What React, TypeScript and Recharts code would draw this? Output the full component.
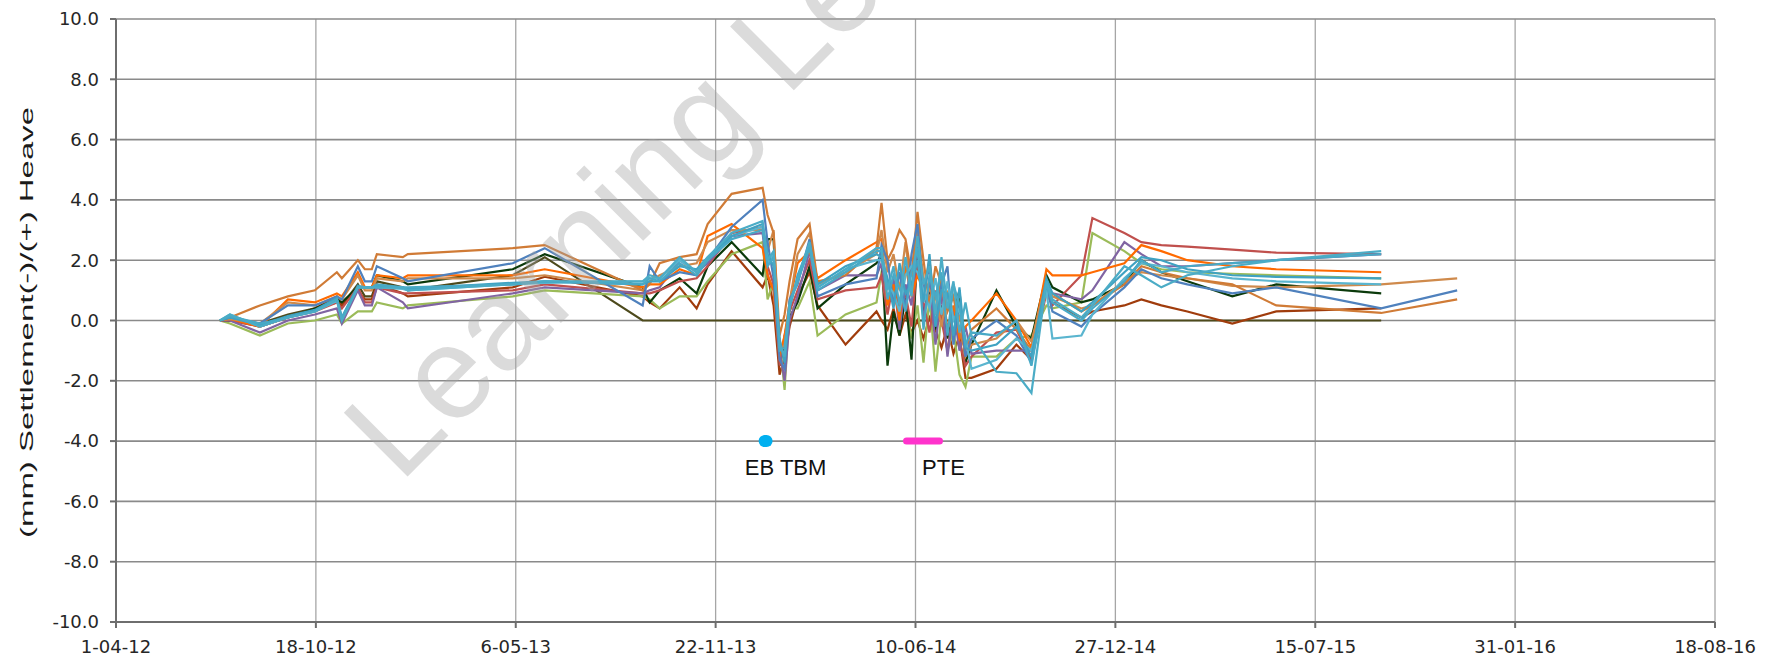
import { LineChart, Line, XAxis, YAxis, CartesianGrid, ReferenceDot } from "recharts";

// survey dates (shared by every monitoring point)
const dates = [
  "2012-07-14", "2012-07-24", "2012-08-23", "2012-09-20", "2012-10-17", "2012-11-08", "2012-11-13", "2012-11-29",
  "2012-12-06", "2012-12-13", "2012-12-18", "2013-01-13", "2013-01-18", "2013-05-03", "2013-06-04",
  "2013-09-10", "2013-09-17", "2013-09-27", "2013-10-17", "2013-11-03", "2013-11-14", "2013-12-08", "2014-01-08",
  "2014-01-13", "2014-01-19", "2014-01-25", "2014-01-30", "2014-02-04", "2014-02-12", "2014-02-24", "2014-03-04",
  "2014-04-01",
  "2014-05-02",
  "2014-05-07", "2014-05-13", "2014-05-19", "2014-05-25", "2014-05-31", "2014-06-06", "2014-06-12", "2014-06-18",
  "2014-06-24", "2014-06-30", "2014-07-06", "2014-07-12", "2014-07-18", "2014-07-24", "2014-07-30", "2014-08-05",
  "2014-08-30", "2014-09-19", "2014-10-04", "2014-10-19", "2014-10-25",
  "2014-11-23", "2014-12-04", "2015-01-05", "2015-01-22", "2015-02-11", "2015-03-09", "2015-04-23", "2015-06-06",
  "2015-09-19", "2015-12-04",
];

const brownA = [
  0, 0.1, 0.5, 0.8, 1.0, 1.6, 1.4, 2.0, 1.7, 1.7, 2.2, 2.1, 2.2, 2.4, 2.5,
  1.0, 1.2, 1.9, 2.1, 2.2, 3.2, 4.2, 4.4, 3.5, 2.9, -0.5, 0.2, 1.3, 2.7, 3.2, 1.3, 1.5,
  2.4,
  3.9, 2.0, 2.4, 3.0, 2.7, 1.5, 3.6, 2.0, 0.5, 1.8, 1.2, 0.3, 0.8, -0.4, -1.0, -0.3,
  0.4, -0.3, -1.0, 1.0, 0.9,
  0.3, 0.5, 1.2, 1.8, 1.6, 1.4, 1.2, 0.5, 0.25, 0.7,
];
const brownB = [
  0, 0.05, -0.1, 0.6, 0.5, 0.8, 0.7, 1.5, 1.0, 1.0, 1.4, 1.3, 1.4, 1.4, 1.5,
  1.0, 1.3, 1.5, 1.8, 1.9, 2.6, 3.0, 3.0, 2.3, 3.0, -1.0, -0.8, 0.6, 2.2, 2.9, 1.2, 1.6,
  2.2,
  3.0, 1.6, 2.2, 1.0, 2.6, 0.9, 3.1, 1.4, 1.0, 0.8, -0.2, 1.0, -0.6, 0.2, -1.2, -0.8,
  -0.6, 0.0, -0.7, 1.3, 0.8,
  0.4, 0.5, 1.3, 1.6, 1.5, 1.4, 1.15, 1.1, 1.2, 1.4,
];
const orange = [
  0, 0.05, -0.2, 0.7, 0.6, 0.9, 0.8, 1.6, 1.1, 1.1, 1.5, 1.4, 1.5, 1.5, 1.7,
  1.1, 1.2, 1.2, 1.7, 1.5, 2.8, 3.2, 2.4, 1.5, 1.0, -1.2, -0.5, 0.6, 1.9, 2.3, 1.4, 2.0,
  2.6,
  2.7, 0.5, 1.2, 0.0, 1.8, 0.8, 1.5, 1.0, 2.0, 0.2, 1.4, -0.3, 0.5, -0.6, -0.2, 0.0,
  0.9, 0.0, -0.9, 1.7, 1.5,
  1.5, 1.6, 1.9, 2.5, 2.3, 2.0, 1.8, 1.7, 1.6, null,
];
const blue = [
  0, 0.1, -0.1, 0.5, 0.5, 0.8, 0.7, 1.8, 1.3, 1.3, 1.8, 1.4, 1.3, 1.9, 2.4,
  0.5, 1.8, 1.3, 1.6, 1.5, 2.0, 3.1, 4.0, 2.6, 1.4, -1.3, -1.6, 0.7, 1.2, 2.7, 0.8, 1.2,
  1.4,
  2.5, 2.0, 0.6, 1.6, 0.4, 2.2, 3.2, 0.9, 1.8, -0.2, 1.2, 1.8, -0.8, 0.6, -1.2, -0.6,
  0.0, -0.5, -1.4, 1.2, 0.3,
  -0.2, 0.2, 1.1, 1.7, 1.4, 1.2, 0.9, 1.1, 0.4, 1.0,
];
const darkGreen = [
  0, 0, -0.1, 0.1, 0.4, 0.7, 0.6, 1.1, 1.1, 1.1, 1.5, 1.3, 1.2, 1.7, 2.2,
  1.1, 0.6, 1.0, 1.4, 0.9, 1.8, 2.6, 1.5, 2.7, 2.7, -1.5, -0.7, 0.1, 0.6, 1.8, 0.4, 1.2,
  1.9,
  2.2, -1.5, 0.3, -0.5, 0.8, -1.3, 2.4, 0.2, 1.1, -0.3, 0.5, -0.6, 0.2, 1.0, -1.4, -0.8,
  1.0, -0.2, -0.6, 1.5, 1.1,
  0.6, 0.7, 1.2, 2.0, 1.6, 1.3, 0.8, 1.2, 0.9, null,
];
const red = [
  0, 0, -0.2, 0.1, 0.3, 0.6, 0.4, 1.1, 0.6, 0.6, 1.1, 0.9, 0.9, 1.0, 1.2,
  0.9, 0.9, 1.0, 1.3, 1.4, 1.8, 2.9, 3.1, 1.8, 1.2, -1.5, -0.5, 0.3, 1.0, 2.0, 0.7, 1.0,
  1.1,
  1.5, 0.2, 1.3, 0.4, 0.9, -0.2, 2.0, 0.6, -0.4, 1.0, 0.0, -1.0, 0.3, -0.7, -1.5, -1.2,
  -0.4, -0.3, -1.3, 0.9, 0.5,
  1.5, 3.4, 2.9, 2.6, 2.5, 2.45, 2.35, 2.25, 2.2, null,
];
const purple = [
  0, 0, -0.4, 0, 0.2, 0.4, -0.1, 1.0, 0.5, 0.5, 1.1, 0.6, 0.4, 0.9, 1.1,
  0.9, 1.0, 1.1, 2.0, 1.6, 1.9, 2.8, 2.9, 1.5, 1.0, -1.0, -2.0, 0.0, 0.8, 2.3, 1.0, 1.5,
  1.5,
  1.9, 0.6, 1.4, -0.3, 1.2, 0.5, 2.6, 0.0, 1.3, -0.8, 0.9, -1.2, 0.4, -1.0, -0.2, -1.1,
  -1.0, -1.0, -1.0, 1.1, 0.9,
  0.7, 1.0, 2.6, 2.2, 1.8, 1.8, 1.9, 2.0, 2.2, null,
];
const green = [
  0, -0.1, -0.5, -0.1, 0, 0.2, -0.1, 0.3, 0.3, 0.3, 0.6, 0.4, 0.5, 0.8, 1.0,
  0.8, 0.7, 0.4, 0.8, 0.8, 1.3, 2.2, 2.6, 0.7, 1.3, -0.6, -2.3, 0.4, 0.4, 1.3, -0.5, 0.2,
  0.6,
  1.6, 1.3, 1.0, 0.2, 0.6, -0.6, 0.5, -1.4, 0.8, -1.7, 0.2, -1.0, -0.3, -1.8, -2.2, -1.2,
  -1.2, -0.6, -0.5, 0.5, 0.4,
  0.6, 2.9, 2.3, 1.9, 1.7, 1.6, 1.55, 1.5, 1.4, null,
];
const cyan1 = [
  0, 0.2, -0.2, 0.1, 0.3, 0.7, 0.0, 1.1, 1.1, 1.1, 1.1, 1.1, 1.0, 1.2, 1.3,
  1.3, 1.5, 1.4, 2.1, 1.6, 2.1, 2.9, 3.3, 2.0, 2.3, -0.8, -1.2, 0.5, 1.4, 2.6, 1.1, 1.7,
  2.4,
  2.4, 1.0, 1.8, 0.5, 2.1, 0.8, 2.8, 1.2, 1.8, 0.2, 2.1, 0.4, 1.3, -0.4, 0.6, -0.5,
  -1.7, -1.75, -2.4, 1.3, 0.7,
  0.1, 0.5, 1.8, 1.5, 1.1, 1.5, 1.8, 2.0, 2.3, null,
];
const cyan2 = [
  0, 0.15, -0.1, 0.1, 0.3, 0.7, 0.1, 1.1, 1.1, 1.1, 1.2, 1.1, 1.1, 1.2, 1.3,
  1.2, 1.4, 1.3, 1.9, 1.5, 2.0, 2.7, 3.0, 1.8, 2.1, -1.0, -0.9, 0.6, 1.3, 2.4, 1.0, 1.6,
  2.3,
  2.3, 0.7, 1.5, 1.1, 0.3, 1.6, 2.4, -0.3, 1.5, 0.8, 1.6, -0.5, 1.2, 0.5, -0.8, -0.4,
  -0.5, 0.0, -1.5, 1.2, 0.6,
  0.0, 0.4, 1.3, 2.0, 1.6, 1.8, 1.9, 2.0, 2.2, null,
];
const cyan3 = [
  0, 0.1, -0.15, 0.15, 0.35, 0.75, 0.1, 1.15, 1.1, 1.1, 1.15, 1.1, 1.05, 1.25, 1.3,
  1.2, 1.3, 1.3, 1.8, 1.7, 2.1, 2.8, 3.2, 2.2, 1.8, -0.6, -1.4, 0.4, 1.5, 2.5, 1.2, 1.8,
  2.2,
  2.1, 1.4, 0.4, 1.9, 0.9, 1.2, 2.0, 0.6, 2.2, -0.2, 1.0, 0.9, -0.5, 1.1, -0.9, -1.0,
  -0.8, -0.2, -1.2, 1.4, 0.9,
  0.3, 0.6, 1.6, 2.1, 2.0, 1.7, 1.5, 1.45, 1.4, null,
];
const cyan4 = [
  0, 0.2, -0.2, 0.1, 0.3, 0.65, 0.05, 1.1, 1.1, 1.1, 1.1, 1.05, 1.0, 1.2, 1.25,
  1.3, 1.4, 1.4, 2.0, 1.6, 2.0, 2.8, 3.1, 1.9, 2.2, -0.9, -1.1, 0.5, 1.3, 2.5, 1.1, 1.7,
  2.0,
  2.0, 1.2, 0.9, 0.3, 1.5, 1.8, 1.6, 1.0, 0.4, 1.4, 0.2, 1.3, 0.0, 0.4, -0.6, -1.6,
  -1.3, -0.6, -1.0, 1.0, -0.6,
  -0.5, 0.2, 1.4, 1.9, 1.8, 1.6, 1.4, 1.3, 1.2, null,
];
const darkBrown = [
  0, 0, -0.2, 0.1, 0.4, 0.8, 0.5, 1.0, 0.7, 0.7, 1.2, 0.9, 0.8, 1.1, 1.45,
  0.8, 0.6, 0.4, 1.1, 0.4, 1.2, 2.3, 1.1, 1.5, 0.5, -1.8, -1.2, -0.2, 0.8, 1.6, 0.5, -0.8,
  0.3,
  0.0, -0.3, 0.4, -0.5, 0.2, -0.4, 0.0, -0.6, 0.1, -0.3, -0.9, -0.2, -1.1, -0.5, -1.9, -1.9,
  -1.6, -0.8, -1.3, 1.2, 0.6,
  0.1, 0.3, 0.5, 0.7, 0.5, 0.3, -0.1, 0.3, 0.4, null,
];
const olive = [
  0, 0, -0.1, 0.2, 0.4, 0.6, 0.5, 1.2, 0.8, 0.8, 1.3, 1.1, 1.0, 1.5, 2.1,
  0, 0, 0, 0, 0, 0, 0, 0, 0, 0, 0, 0, 0, 0, 0, 0, 0,
  0,
  0, 0, 0, 0, 0, 0, 0, 0, 0, 0, 0, 0, 0, 0, 0, 0,
  0, 0, 0, 0, 0,
  0, 0, 0, 0, 0, 0, 0, 0, 0, null,
];

// event markers on the -4.0 line
const ebTbmDates = ["2014-01-10", "2014-01-12"];
const pteDates = ["2014-06-01", "2014-07-04"];
const markerLevel = -4;

const tickDates = ["2012-04-01", "2012-10-18", "2013-05-06", "2013-11-22", "2014-06-10", "2014-12-27", "2015-07-15", "2016-01-31", "2016-08-18"];
const tickLabels = ["1-04-12", "18-10-12", "6-05-13", "22-11-13", "10-06-14", "27-12-14", "15-07-15", "31-01-16", "18-08-16"];
const yTicks = [-10, -8, -6, -4, -2, 0, 2, 4, 6, 8, 10];

const toDay = (iso: string) => {
  const [y, m, d] = iso.split("-").map(Number);
  return (Date.UTC(y, m - 1, d) - Date.UTC(2012, 3, 1)) / 86400000;
};

const series = [
  { key: "olive", color: "#4d4a1c", values: olive },
  { key: "darkBrown", color: "#a03c0c", values: darkBrown },
  { key: "green", color: "#9bbb59", values: green },
  { key: "darkGreen", color: "#0b3a0b", values: darkGreen },
  { key: "red", color: "#c0504d", values: red },
  { key: "purple", color: "#8064a2", values: purple },
  { key: "orange", color: "#ff6a00", values: orange },
  { key: "brownB", color: "#cf8a4c", values: brownB },
  { key: "brownA", color: "#d07b36", values: brownA },
  { key: "blue", color: "#4f81bd", values: blue },
  { key: "cyan4", color: "#5ab5cf", values: cyan4 },
  { key: "cyan3", color: "#3fa2c2", values: cyan3 },
  { key: "cyan2", color: "#48a9c6", values: cyan2 },
  { key: "cyan1", color: "#4bacc6", values: cyan1 },
];

const rows = dates.map((d, i) => {
  const row: Record<string, number | null> = { t: toDay(d) };
  series.forEach((s) => (row[s.key] = s.values[i]));
  return row;
});

const ebTbm = ebTbmDates.map((d) => ({ t: toDay(d), v: markerLevel }));
const pte = pteDates.map((d) => ({ t: toDay(d), v: markerLevel }));
const ticks = tickDates.map(toDay);

const tickFont = { fontFamily: "DejaVu Sans", fontSize: 18, fill: "#262626" };

const markerLabel = (text: string) => (props: any) => {
  const vb = props.viewBox || {};
  return (
    <text x={vb.x} y={vb.y + 34} textAnchor="middle" fontFamily="Liberation Sans, Arial" fontSize={22} fill="#111">
      {text}
    </text>
  );
};

export default function App() {
  return (
    <div style={{ position: "absolute", left: 0, top: 0, width: 1770, height: 665, background: "#fff" }}>
      <LineChart width={1770} height={665} data={rows} margin={{ top: 19, right: 55, bottom: 0, left: 0 }}>
        <CartesianGrid horizontal={false} stroke="#a6a6a6" strokeWidth={1.3} />
        <CartesianGrid vertical={false} stroke="#8a8a8a" strokeWidth={1.6} />
        <XAxis
          dataKey="t"
          type="number"
          domain={[ticks[0], ticks[ticks.length - 1]]}
          ticks={ticks}
          tickFormatter={(v: number) => tickLabels[ticks.indexOf(v)] ?? ""}
          height={43}
          tick={tickFont}
          tickSize={6}
          tickMargin={12}
          stroke="#6e6e6e"
          strokeWidth={2}
          interval={0}
        />
        <YAxis
          type="number"
          domain={[-10, 10]}
          ticks={yTicks}
          tickFormatter={(v: number) => v.toFixed(1)}
          width={116}
          tick={tickFont}
          tickSize={6}
          tickMargin={11}
          stroke="#6e6e6e"
          strokeWidth={2}
          interval={0}
        />
        {series.map((s) => (
          <Line
            key={s.key}
            dataKey={s.key}
            type="linear"
            stroke={s.color}
            strokeWidth={2.2}
            dot={false}
            activeDot={false}
            isAnimationActive={false}
          />
        ))}
        <Line data={ebTbm} dataKey="v" type="linear" stroke="#00b0f0" strokeWidth={12} strokeLinecap="round" dot={false} activeDot={false} isAnimationActive={false} />
        <Line data={pte} dataKey="v" type="linear" stroke="#ff33cc" strokeWidth={7} strokeLinecap="round" dot={false} activeDot={false} isAnimationActive={false} />
        <ReferenceDot x={toDay("2014-01-31")} y={markerLevel} r={0} fill="none" stroke="none" label={markerLabel("EB TBM")} />
        <ReferenceDot x={toDay("2014-07-08")} y={markerLevel} r={0} fill="none" stroke="none" label={markerLabel("PTE")} />
      </LineChart>
      <svg width={1770} height={665} style={{ position: "absolute", left: 0, top: 0, pointerEvents: "none" }}>
        <text
          x={33}
          y={322.5}
          transform="rotate(-90 33 322.5)"
          textAnchor="middle"
          fontFamily="Liberation Sans, Arial"
          fontSize={18}
          fill="#1a1a1a"
          textLength={431}
          lengthAdjust="spacingAndGlyphs"
        >
          (mm) Settlement(-)/(+) Heave
        </text>
        <text
          x={400}
          y={484}
          transform="rotate(-45 400 484)"
          fontFamily="Liberation Sans, Arial"
          fontSize={131}
          fill="#a6a6a6"
          fillOpacity={0.4}
        >
          Learning Lessons
        </text>
      </svg>
    </div>
  );
}
